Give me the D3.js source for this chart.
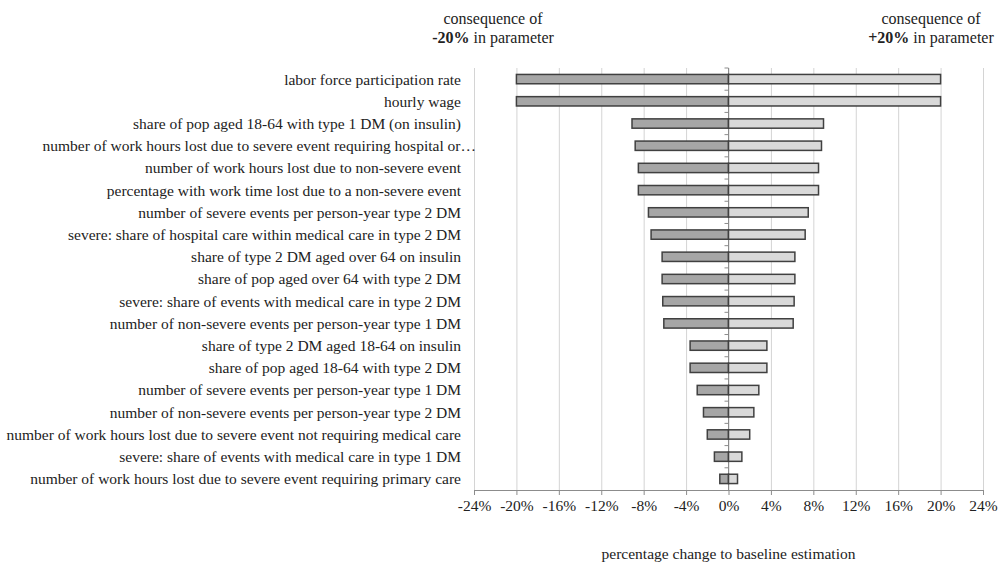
<!DOCTYPE html>
<html lang="en">
<head>
    <meta charset="UTF-8">
    <title>Sensitivity Analysis</title>
    <script src="https://d3js.org/d3.v7.min.js"></script>
    <style>
        body { margin: 0; background: #fff; }
        text { font-family: "Liberation Serif", "Times New Roman", serif; fill: #222; }
        .grid line { stroke: #d4d4d4; stroke-width: 1; }
        .grid .domain { display: none; }
        .x-axis .domain, .x-axis line { stroke: #8c8c8c; }
        .x-axis text { font-size: 15.5px; }
        .label { font-size: 15.5px; }
        .note { font-size: 16px; }
        .neg { fill: #a6a6a6; stroke: #404040; stroke-width: 1.5; }
        .pos { fill: #d9d9d9; stroke: #404040; stroke-width: 1.5; }
    </style>
</head>
<body>
<div id="chart"></div>
<script>
    // parameters, sorted by impact
    const params = [
        "labor force participation rate",
        "hourly wage",
        "share of pop aged 18-64 with type 1 DM (on insulin)",
        "number of work hours lost due to severe event requiring hospital or\u2026",
        "number of work hours lost due to non-severe event",
        "percentage with work time lost due to a non-severe event",
        "number of severe events per person-year type 2 DM",
        "severe: share of hospital care within medical care in type 2 DM",
        "share of type 2 DM aged over 64 on insulin",
        "share of pop aged over 64 with type 2 DM",
        "severe: share of events with medical care in type 2 DM",
        "number of non-severe events per person-year type 1 DM",
        "share of type 2 DM aged 18-64 on insulin",
        "share of pop aged 18-64 with type 2 DM",
        "number of severe events per person-year type 1 DM",
        "number of non-severe events per person-year type 2 DM",
        "number of work hours lost due to severe event not requiring medical care",
        "severe: share of events with medical care in type 1 DM",
        "number of work hours lost due to severe event requiring primary care"
    ];
    // % change for -20% in parameter
    const minus20 = [-20, -20, -9.1, -8.8, -8.5, -8.5, -7.55, -7.3, -6.26, -6.26, -6.2, -6.1,
                     -3.62, -3.62, -2.95, -2.36, -2.0, -1.33, -0.82];
    // % change for +20% in parameter
    const plus20 = [20, 20, 8.96, 8.77, 8.49, 8.49, 7.52, 7.23, 6.26, 6.26, 6.19, 6.1,
                    3.62, 3.62, 2.86, 2.39, 2.0, 1.26, 0.85];
    const xTicks = [-24, -20, -16, -12, -8, -4, 0, 4, 8, 12, 16, 20, 24];

    const width = 1002, height = 562;
    const mLeft = 474, mRight = 983, mTop = 68, mBottom = 490;

    const svg = d3.select("#chart").append("svg")
        .attr("width", width)
        .attr("height", height);

    const x = d3.scaleLinear().domain([-24, 24]).range([mLeft, mRight]);
    const y = d3.scaleBand().domain(params).range([mTop, mBottom]).paddingInner(0.58).paddingOuter(0.29);
    const yRow = d3.scaleBand().domain(params).range([mTop, mBottom]);

    // vertical gridlines
    svg.append("g")
        .attr("class", "grid")
        .attr("transform", `translate(0, ${mBottom})`)
        .call(d3.axisBottom(x).tickValues(xTicks).tickSize(-(mBottom - mTop)).tickFormat(""));

    // bottom axis
    svg.append("g")
        .attr("class", "x-axis")
        .attr("transform", `translate(0, ${mBottom})`)
        .call(d3.axisBottom(x).tickValues(xTicks).tickSize(5).tickSizeOuter(5).tickPadding(5)
            .tickFormat(d => d + "%"));

    // vertical axis at 0 with category separators
    svg.append("line")
        .attr("x1", x(0)).attr("x2", x(0))
        .attr("y1", mTop).attr("y2", mBottom)
        .attr("stroke", "#8c8c8c");
    svg.append("g")
        .selectAll("line")
        .data(params)
        .join("line")
        .attr("x1", x(0) - 4).attr("x2", x(0))
        .attr("y1", d => yRow(d)).attr("y2", d => yRow(d))
        .attr("stroke", "#8c8c8c");

    // bars
    svg.append("g").selectAll("rect")
        .data(params)
        .join("rect")
        .attr("class", "neg")
        .attr("x", (d, i) => x(minus20[i]))
        .attr("y", d => y(d))
        .attr("width", (d, i) => x(0) - x(minus20[i]))
        .attr("height", y.bandwidth());

    svg.append("g").selectAll("rect")
        .data(params)
        .join("rect")
        .attr("class", "pos")
        .attr("x", x(0))
        .attr("y", d => y(d))
        .attr("width", (d, i) => x(plus20[i]) - x(0))
        .attr("height", y.bandwidth());

    // category labels
    svg.append("g").selectAll("text")
        .data(params)
        .join("text")
        .attr("class", "label")
        .attr("x", d => d.endsWith("\u2026") ? 476 : 461)
        .attr("y", d => yRow(d) + yRow.bandwidth() / 2)
        .attr("dy", "0.35em")
        .attr("text-anchor", "end")
        .text(d => d);

    // header notes
    function note(cx, sign) {
        const t = svg.append("text").attr("class", "note").attr("text-anchor", "middle");
        t.append("tspan").attr("x", cx).attr("y", 24).text("consequence of");
        const l2 = t.append("tspan").attr("x", cx).attr("y", 43);
        l2.append("tspan").attr("font-weight", "bold").text(sign + "20%");
        l2.append("tspan").text(" in parameter");
    }
    note(493, "-");
    note(931, "+");

    // x axis title
    svg.append("text")
        .attr("class", "label")
        .attr("x", x(0))
        .attr("y", 559)
        .attr("text-anchor", "middle")
        .text("percentage change to baseline estimation");
</script>
</body>
</html>
